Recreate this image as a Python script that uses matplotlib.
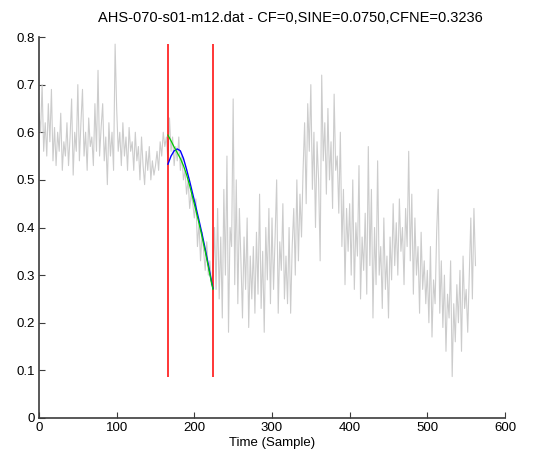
import matplotlib
matplotlib.use("Agg")
import matplotlib.pyplot as plt
import numpy as np

plt.rcParams['font.family'] = ['Liberation Sans', 'DejaVu Sans']

# Raw signal, one reading every second sample (0, 2, ..., 562)
signal_step = 2
signal = [
    0.64, 0.60, 0.70, 0.56, 0.62, 0.55, 0.66, 0.58, 0.69, 0.54,
    0.61, 0.53, 0.60, 0.56, 0.64, 0.52, 0.58, 0.55, 0.62, 0.53,
    0.59, 0.67, 0.51, 0.60, 0.56, 0.70, 0.54, 0.62, 0.69, 0.55,
    0.60, 0.52, 0.63, 0.57, 0.59, 0.53, 0.66, 0.56, 0.73, 0.55,
    0.61, 0.66, 0.54, 0.59, 0.49, 0.62, 0.55, 0.60, 0.52, 0.785,
    0.65, 0.56, 0.60, 0.53, 0.62, 0.55, 0.59, 0.52, 0.61, 0.56,
    0.58, 0.52, 0.60, 0.54, 0.57, 0.50, 0.59, 0.53, 0.49, 0.56,
    0.52, 0.57, 0.50, 0.54, 0.51, 0.53, 0.56, 0.52, 0.58, 0.55,
    0.60, 0.57, 0.59, 0.54, 0.63, 0.56, 0.59, 0.53, 0.57, 0.54,
    0.59, 0.52, 0.55, 0.50, 0.52, 0.47, 0.50, 0.44, 0.47, 0.45,
    0.42, 0.46, 0.36, 0.41, 0.33, 0.39, 0.35, 0.31, 0.37, 0.30,
    0.33, 0.28, 0.30, 0.40, 0.27, 0.44, 0.25, 0.38, 0.21, 0.48,
    0.30, 0.55, 0.18, 0.40, 0.36, 0.67, 0.28, 0.50, 0.24, 0.44,
    0.33, 0.21, 0.38, 0.27, 0.42, 0.19, 0.34, 0.25, 0.36, 0.22,
    0.39, 0.26, 0.47, 0.23, 0.35, 0.18, 0.40, 0.29, 0.44, 0.24,
    0.42, 0.27, 0.38, 0.50, 0.22, 0.37, 0.31, 0.45, 0.25, 0.34,
    0.24, 0.40, 0.22, 0.36, 0.44, 0.30, 0.50, 0.33, 0.47, 0.38,
    0.52, 0.62, 0.45, 0.66, 0.56, 0.70, 0.48, 0.60, 0.40, 0.58,
    0.50, 0.33, 0.72, 0.54, 0.62, 0.47, 0.65, 0.50, 0.58, 0.44,
    0.68, 0.52, 0.55, 0.43, 0.60, 0.36, 0.48, 0.28, 0.44, 0.35,
    0.45, 0.30, 0.50, 0.27, 0.41, 0.34, 0.53, 0.25, 0.38, 0.31,
    0.43, 0.26, 0.57, 0.32, 0.48, 0.21, 0.40, 0.28, 0.54, 0.30,
    0.36, 0.23, 0.42, 0.27, 0.34, 0.21, 0.38, 0.29, 0.45, 0.32,
    0.41, 0.30, 0.46, 0.35, 0.40, 0.28, 0.44, 0.36, 0.56, 0.33,
    0.47, 0.26, 0.42, 0.30, 0.36, 0.22, 0.39, 0.27, 0.33, 0.24,
    0.31, 0.20, 0.36, 0.17, 0.29, 0.24, 0.39, 0.48, 0.22, 0.33,
    0.19, 0.30, 0.14, 0.26, 0.21, 0.33, 0.087, 0.24, 0.16, 0.28,
    0.20, 0.31, 0.14, 0.34, 0.23, 0.27, 0.18, 0.30, 0.42, 0.25,
    0.44, 0.32,
]

# Analysed segment boundaries (samples)
seg_start, seg_end = 166, 224

# Fitted curves across the segment
fit_x = [166, 170, 174, 178, 182, 186, 190, 194, 198, 202, 206, 210, 214, 218, 222, 224]
sine_fit = [0.533, 0.550, 0.561, 0.565, 0.561, 0.545, 0.522, 0.497, 0.470,
            0.443, 0.415, 0.386, 0.355, 0.322, 0.288, 0.272]
trend_fit = [0.594, 0.582, 0.569, 0.557, 0.545, 0.530, 0.511, 0.488, 0.462,
             0.436, 0.409, 0.380, 0.350, 0.318, 0.285, 0.270]

title = "AHS-070-s01-m12.dat - CF=0,SINE=0.0750,CFNE=0.3236"

fig = plt.figure(figsize=(5.44, 4.59), dpi=100)
ax = fig.add_axes([39 / 544, 41 / 459, 466 / 544, 381 / 459])

sig_x = np.arange(len(signal)) * signal_step
ax.plot(sig_x, signal, color=(0.8, 0.8, 0.8), lw=0.8)

lo, hi = min(signal), max(signal)
ax.vlines([seg_start, seg_end], lo, hi, colors='red', lw=1.1)
ax.plot(fit_x, sine_fit, color='blue', lw=1.0)
ax.plot(fit_x, trend_fit, color=(0.0, 0.8, 0.0), lw=0.9)

ax.set_xlim(0, 600)
ax.set_ylim(0, 0.8)
ax.set_xticks(range(0, 601, 100))
ax.set_yticks(np.arange(0, 0.81, 0.1))
ax.set_yticklabels(["0", "0.1", "0.2", "0.3", "0.4", "0.5", "0.6", "0.7", "0.8"])

for side in ("top", "right"):
    ax.spines[side].set_visible(False)
for side in ("left", "bottom"):
    ax.spines[side].set_color("#3c3c3c")
    ax.spines[side].set_linewidth(1.2)
ax.tick_params(direction="in", length=4, width=0.8, colors="#3c3c3c",
               labelcolor="black", labelsize=9.5, pad=3)

ax.set_xlabel("Time (Sample)", fontsize=9.5, labelpad=2)
ax.set_title(title, fontsize=10.5, x=(290 - 39) / 466, pad=11)

fig.savefig("out.png", dpi=100, facecolor="white")
